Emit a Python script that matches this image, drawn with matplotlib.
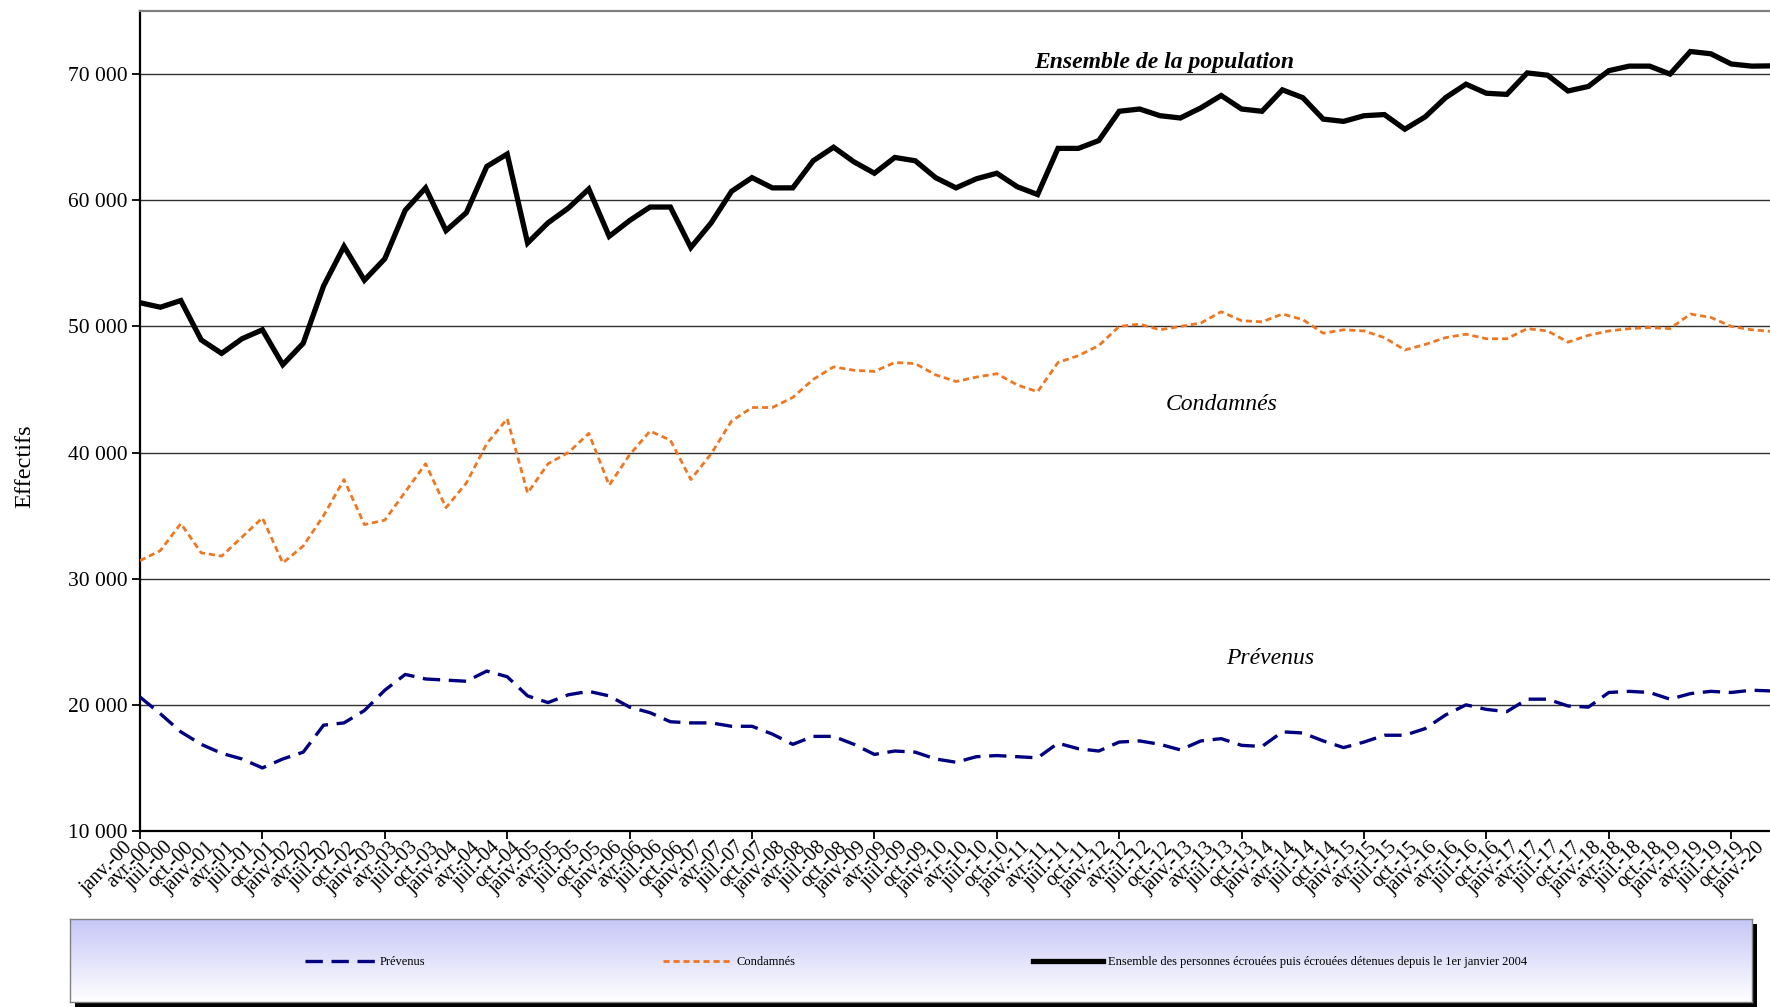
import numpy as np
import matplotlib
matplotlib.use("Agg")
import matplotlib.pyplot as plt
from matplotlib.patches import Rectangle
from matplotlib.transforms import ScaledTranslation

# quarterly counts, janv. 2000 -> janv. 2020
months = ['janv.', 'avr.', 'juil.', 'oct.']
years = ['%02d' % y for y in range(0, 21)]
labels = [m + '-' + y for y in years for m in months][:81]

ensemble = [51875, 51520, 52050, 48930, 47860, 49020, 49730, 46960, 48660, 53210,
            56340, 53660, 55360, 59200, 60980, 57590, 59020, 62680, 63660, 56610,
            58210, 59380, 60890, 57140, 58390, 59460, 59460, 56250, 58210, 60710,
            61790, 60980, 60980, 63130, 64200, 63040, 62140, 63390, 63130, 61790,
            60980, 61700, 62140, 61070, 60450, 64110, 64110, 64730, 67050, 67230,
            66700, 66520, 67320, 68300, 67230, 67050, 68750, 68130, 66430, 66250,
            66700, 66790, 65630, 66610, 68130, 69200, 68480, 68390, 70090, 69910,
            68660, 69020, 70270, 70630, 70630, 70000, 71790, 71610, 70800, 70630,
            70650]

condamnes = [31430, 32230, 34370, 32050, 31790, 33300, 34820, 31250, 32590, 35000,
             37860, 34290, 34640, 36880, 39110, 35630, 37590, 40710, 42680, 36790,
             39110, 40000, 41520, 37410, 39820, 41700, 40980, 37860, 39910, 42500,
             43570, 43570, 44370, 45800, 46790, 46520, 46430, 47140, 47050, 46160,
             45630, 45980, 46250, 45360, 44820, 47140, 47680, 48480, 50000, 50180,
             49730, 50000, 50270, 51160, 50450, 50360, 50980, 50540, 49460, 49730,
             49640, 49110, 48130, 48570, 49110, 49380, 49020, 49020, 49820, 49640,
             48750, 49290, 49640, 49820, 49910, 49820, 50980, 50710, 50000, 49730,
             49600]

prevenus = [20620, 19290, 17860, 16870, 16160, 15710, 15000, 15710, 16250, 18390,
            18570, 19550, 21160, 22410, 22050, 21960, 21870, 22680, 22230, 20710,
            20180, 20800, 21070, 20710, 19820, 19380, 18660, 18570, 18570, 18300,
            18300, 17680, 16870, 17500, 17500, 16870, 16070, 16340, 16250, 15710,
            15450, 15890, 15980, 15890, 15800, 16960, 16520, 16340, 17050, 17140,
            16870, 16430, 17140, 17320, 16790, 16700, 17860, 17770, 17140, 16610,
            17050, 17590, 17590, 18120, 19200, 20000, 19640, 19460, 20450, 20450,
            19910, 19820, 20980, 21070, 20980, 20450, 20890, 21070, 20980, 21160,
            21100]

plt.rcParams['font.family'] = ['Liberation Serif', 'DejaVu Serif']

W, H = 1770, 1007
fig = plt.figure(figsize=(W / 100, H / 100), dpi=100)
fig.patch.set_facecolor('white')

# plot area, last quarter sits right at the picture edge
ax = fig.add_axes([140 / W, (H - 831) / H, 1632 / W, 820 / H])
x = np.arange(len(labels))

ax.plot(x, prevenus, color='#000080', lw=2.4, dashes=(5.2, 2.6),
        label='Prévenus', zorder=3)
ax.plot(x, condamnes, color='#EE7722', lw=2.0, dashes=(2.2, 1.4),
        label='Condamnés', zorder=3)
ax.plot(x, ensemble, color='black', lw=3.8, solid_joinstyle='miter',
        label='Ensemble des personnes écrouées puis écrouées détenues depuis le 1er janvier 2004',
        zorder=4)

ax.set_xlim(0, len(labels) - 1)
ax.set_ylim(10000, 75000)

yt = list(range(10000, 80000, 10000))
ax.set_yticks(yt)
ax.set_yticklabels(['{:,}'.format(v).replace(',', ' ') for v in yt], fontsize=15.5)
ax.yaxis.grid(True, color='#303030', lw=1.0)
ax.set_axisbelow(True)
ax.tick_params(axis='y', length=6, width=1.3, pad=3)

# tick marks every 6 quarters, labels every quarter
ax.xaxis.remove_overlapping_locs = False
ax.set_xticks(np.arange(0, len(labels), 6))
ax.set_xticklabels([])
ax.tick_params(axis='x', which='major', length=6, width=1.3)
ax.set_xticks(x, minor=True)
ax.set_xticklabels(labels, minor=True, fontsize=14.5, rotation=45,
                   ha='right', va='center', rotation_mode='anchor')
ax.tick_params(axis='x', which='minor', length=0, pad=10)
# nudge the rotated labels a little to the left, as in the original
shift = ScaledTranslation(-10 / 100, 0, fig.dpi_scale_trans)
for t in ax.get_xticklabels(minor=True):
    t.set_transform(t.get_transform() + shift)

for s in ['left', 'bottom']:
    ax.spines[s].set_linewidth(1.6)
    ax.spines[s].set_color('black')
ax.spines['top'].set_color('#808080')
ax.spines['top'].set_linewidth(1.6)
ax.spines['right'].set_visible(False)

ax.set_ylabel('Effectifs', fontsize=17.5)
ax.yaxis.set_label_coords(-0.064, 0.445)

ax.text(50.2, 70950, 'Ensemble de la population', fontsize=17, style='italic',
        weight='bold', ha='center', va='center')
ax.text(53.0, 43810, 'Condamnés', fontsize=17, style='italic', ha='center', va='center')
ax.text(55.4, 23650, 'Prévenus', fontsize=17, style='italic', ha='center', va='center')

# legend box with lavender gradient and a dark drop shadow
lx, ly, lw_, lh = 70 / W, 5 / H, 1682 / W, 83 / H
shadow = Rectangle((lx + 5 / W, ly - 5 / H), lw_, lh, transform=fig.transFigure,
                   facecolor='black', edgecolor='none', zorder=-5)
fig.add_artist(shadow)
lax = fig.add_axes([lx, ly, lw_, lh], zorder=2)
grad = np.linspace(0, 1, 100).reshape(-1, 1)
top = np.array([0.78, 0.78, 0.97])
bot = np.array([1.0, 1.0, 1.0])
img = top[None, None, :] * (1 - grad[:, :, None]) + bot[None, None, :] * grad[:, :, None]
lax.imshow(img, aspect='auto', extent=(0, 1, 0, 1))
lax.set_xticks([])
lax.set_yticks([])
for s in lax.spines.values():
    s.set_color('#808080')
    s.set_linewidth(1.0)

handles, names = ax.get_legend_handles_labels()
leg = lax.legend(handles, names, loc='center', bbox_to_anchor=(916 / W, 1 - 962 / H),
                 bbox_transform=fig.transFigure, ncol=3, frameon=False, fontsize=9,
                 handlelength=5.6, handletextpad=0.35, columnspacing=19)

fig.savefig('out.png', dpi=100)
